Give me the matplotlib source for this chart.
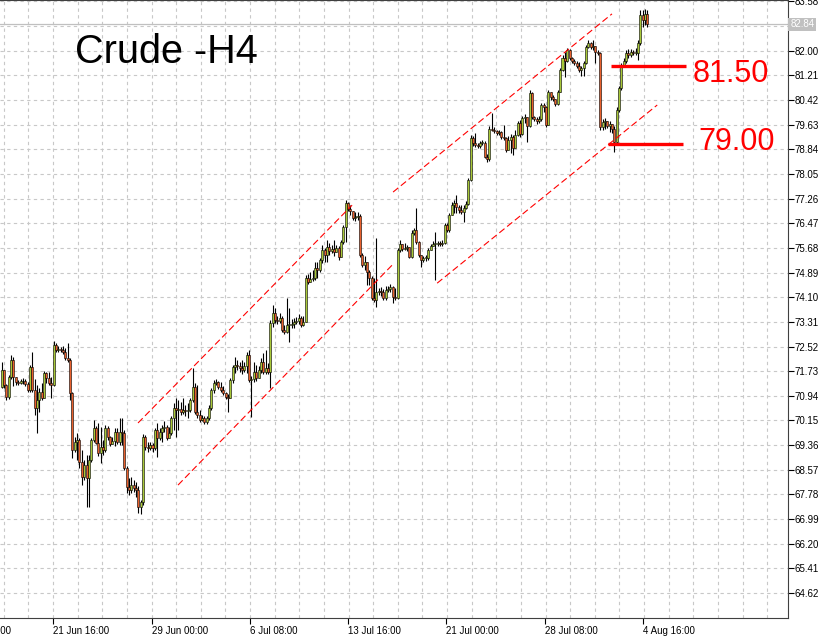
import numpy as np
import matplotlib
matplotlib.use("Agg")
import matplotlib.pyplot as plt

# H4 crude bars
closes = [
    71.77, 71.29, 70.90, 71.54, 72.09, 71.54, 71.38, 71.35, 71.40, 71.42,
    71.32, 71.13, 71.87, 71.13, 70.54, 70.80, 71.06, 70.87, 71.67, 71.51,
    71.35, 71.29, 72.57, 72.41, 72.44, 72.40, 72.35, 72.15, 72.09, 71.03,
    69.20, 69.45, 69.52, 68.82, 68.34, 68.72, 68.30, 68.88, 69.52, 69.90,
    69.42, 69.10, 69.29, 69.20, 69.90, 69.61, 69.39, 69.50, 69.77, 69.45,
    69.77, 69.74, 68.62, 68.02, 67.92, 68.08, 67.98, 67.92, 67.38, 67.54,
    69.61, 69.29, 69.26, 69.36, 69.26, 69.84, 69.58, 69.77, 69.90, 69.93,
    69.58, 69.74, 70.22, 70.54, 70.48, 70.51, 70.42, 70.48, 70.45, 70.48,
    70.80, 71.22, 70.42, 70.32, 70.16, 70.22, 70.10, 70.22, 70.54, 71.13,
    71.35, 71.38, 71.22, 71.13, 71.03, 70.90, 70.87, 71.45, 71.87, 71.93,
    71.90, 71.83, 71.77, 71.90, 72.25, 71.45, 71.48, 71.70, 71.51, 71.77,
    72.03, 71.70, 71.83, 71.70, 73.27, 73.59, 73.37, 73.34, 73.43, 73.05,
    72.98, 73.21, 73.21, 73.24, 73.30, 73.34, 73.43, 73.21, 73.30, 74.71,
    74.59, 74.68, 74.71, 75.03, 74.97, 75.29, 75.61, 75.45, 75.71, 75.58,
    75.64, 75.55, 75.68, 75.39, 75.87, 76.35, 77.12, 76.92, 76.86, 76.64,
    76.67, 76.70, 75.45, 75.13, 75.23, 74.90, 74.71, 74.07, 74.01, 74.27,
    74.30, 74.27, 74.07, 74.33, 74.36, 74.42, 74.10, 74.07, 75.61, 75.80,
    75.64, 75.68, 75.71, 75.39, 76.16, 76.25, 75.87, 75.45, 75.29, 75.36,
    75.36, 75.61, 75.74, 75.80, 75.80, 75.84, 75.80, 75.84, 76.41, 76.25,
    76.73, 77.05, 77.12, 76.99, 76.89, 76.83, 76.96, 77.08, 77.86, 79.20,
    79.04, 78.98, 78.94, 79.04, 79.04, 78.59, 78.53, 79.49, 79.46, 79.43,
    79.36, 79.39, 79.23, 79.20, 78.82, 79.14, 79.23, 78.88, 79.30, 79.68,
    79.33, 79.84, 79.87, 79.59, 80.64, 79.87, 79.81, 79.75, 79.81, 80.26,
    80.20, 79.62, 80.68, 80.52, 80.45, 80.29, 80.68, 81.38, 81.77, 81.67,
    82.02, 81.77, 81.67, 81.61, 81.51, 81.38, 81.45, 81.61, 82.12, 82.25,
    82.12, 82.15, 81.96, 81.93, 79.55, 79.71, 79.75, 79.59, 79.65, 79.49,
    79.07, 80.10, 80.80, 81.51, 81.67, 81.93, 81.86, 81.96, 81.93, 81.93,
    82.25, 83.14, 82.98, 83.18, 82.84,
]
highs = [
    72.03, 71.70, 71.32, 71.61, 72.25, 72.19, 71.51, 71.45, 71.48, 71.51,
    71.48, 71.38, 71.93, 72.35, 71.48, 71.29, 71.19, 71.35, 71.74, 71.70,
    71.70, 71.54, 72.70, 72.63, 72.54, 72.50, 72.54, 72.47, 72.63, 72.15,
    71.06, 69.61, 69.74, 69.58, 69.20, 68.88, 69.04, 69.04, 69.58, 70.16,
    69.97, 70.06, 69.93, 69.52, 70.00, 69.97, 69.65, 69.62, 69.90, 69.90,
    70.22, 70.22, 69.84, 68.69, 68.30, 68.34, 68.24, 68.18, 68.05, 67.60,
    69.71, 69.68, 69.45, 69.45, 69.42, 69.90, 70.06, 69.90, 70.00, 70.13,
    70.00, 69.93, 70.29, 70.70, 70.87, 70.80, 70.74, 70.87, 70.64, 70.70,
    70.87, 71.83, 71.35, 71.29, 70.48, 70.32, 70.29, 70.29, 70.64, 71.19,
    71.45, 71.48, 71.42, 71.38, 71.26, 71.06, 71.00, 71.51, 71.93, 72.19,
    72.09, 72.03, 72.09, 72.03, 72.35, 72.41, 71.58, 72.03, 71.93, 71.90,
    72.15, 72.31, 72.41, 72.00, 73.37, 73.85, 73.75, 73.50, 73.59, 73.50,
    73.21, 74.07, 73.75, 73.40, 73.43, 73.47, 73.56, 73.50, 73.50, 74.81,
    74.84, 74.90, 74.97, 75.23, 75.23, 75.36, 75.77, 75.68, 75.93, 75.84,
    75.77, 75.93, 75.77, 75.74, 75.93, 76.41, 77.21, 77.14, 77.05, 76.86,
    76.83, 76.83, 76.76, 75.52, 75.42, 75.13, 74.97, 74.78, 74.71, 75.99,
    74.39, 74.42, 74.36, 74.46, 74.46, 74.52, 74.46, 74.39, 75.68, 75.93,
    75.80, 75.84, 75.77, 75.71, 76.25, 76.32, 76.96, 75.90, 75.45, 75.42,
    75.45, 75.68, 75.80, 75.90, 76.19, 75.90, 75.90, 75.93, 76.48, 76.48,
    76.80, 77.14, 77.21, 77.38, 77.05, 77.05, 77.05, 77.18, 77.92, 79.30,
    79.26, 79.36, 79.04, 79.10, 79.14, 79.10, 78.69, 79.59, 80.00, 79.55,
    79.46, 79.46, 79.43, 79.62, 79.23, 79.26, 79.33, 79.30, 79.46, 79.75,
    79.78, 79.91, 79.97, 79.87, 80.74, 80.67, 79.91, 79.87, 79.91, 80.32,
    80.32, 80.23, 80.74, 80.61, 80.58, 80.42, 80.74, 81.45, 81.86, 81.96,
    82.09, 82.05, 81.80, 81.73, 81.67, 81.64, 81.51, 81.67, 82.18, 82.34,
    82.28, 82.34, 82.15, 82.02, 81.96, 79.81, 79.84, 79.75, 79.75, 79.62,
    79.59, 80.20, 80.87, 81.61, 81.77, 82.02, 82.05, 82.05, 82.02, 82.09,
    82.34, 83.30, 83.30, 83.34, 83.30,
]
lows = [
    71.19, 71.19, 70.80, 70.83, 71.48, 71.26, 71.29, 71.29, 71.32, 71.32,
    71.26, 71.06, 71.06, 71.06, 70.32, 69.74, 70.42, 70.80, 70.87, 71.35,
    71.29, 70.87, 71.26, 72.35, 72.35, 72.33, 72.28, 72.09, 72.03, 70.80,
    68.94, 69.14, 68.88, 68.62, 68.08, 68.24, 67.38, 67.38, 68.82, 69.45,
    69.39, 69.01, 68.78, 69.04, 69.14, 69.52, 69.33, 69.40, 69.33, 69.39,
    69.36, 69.36, 68.56, 67.83, 67.76, 67.83, 67.86, 67.70, 67.18, 67.15,
    67.44, 69.20, 69.14, 69.20, 69.14, 69.20, 68.98, 69.52, 69.45, 69.77,
    69.52, 69.65, 69.68, 69.84, 69.61, 69.84, 70.32, 70.35, 70.29, 70.22,
    70.42, 70.74, 70.35, 70.22, 70.10, 70.13, 70.03, 70.03, 70.16, 70.48,
    71.03, 71.29, 71.16, 71.06, 70.96, 70.83, 70.42, 70.87, 71.35, 71.67,
    71.77, 71.70, 71.64, 71.70, 71.67, 71.38, 70.26, 71.38, 71.42, 71.61,
    71.67, 71.64, 71.64, 71.64, 71.19, 73.14, 73.27, 73.24, 73.27, 72.98,
    72.92, 72.95, 72.67, 73.11, 73.11, 73.24, 73.24, 73.14, 73.18, 73.37,
    74.52, 74.59, 74.62, 74.65, 74.71, 74.90, 75.19, 75.23, 75.23, 75.45,
    75.52, 75.42, 75.55, 75.29, 75.42, 75.80, 75.87, 76.86, 76.73, 76.57,
    76.54, 76.57, 75.39, 75.07, 74.97, 74.49, 74.49, 74.01, 73.94, 73.78,
    74.17, 74.14, 74.01, 74.01, 74.27, 74.27, 73.91, 74.01, 74.04, 75.55,
    75.58, 75.61, 75.58, 75.36, 75.36, 76.09, 75.80, 75.39, 75.07, 75.23,
    75.26, 75.29, 75.61, 75.74, 74.65, 75.74, 75.74, 75.74, 75.80, 76.19,
    76.19, 76.73, 76.80, 76.80, 76.80, 76.76, 76.51, 76.92, 77.05, 77.82,
    78.94, 78.91, 78.88, 78.88, 78.98, 78.56, 78.43, 78.46, 79.43, 79.36,
    79.30, 79.30, 79.17, 79.14, 78.75, 79.04, 78.72, 78.66, 78.88, 79.26,
    79.23, 79.30, 79.68, 79.07, 79.55, 79.81, 79.75, 79.65, 79.68, 79.75,
    80.03, 79.55, 79.71, 80.42, 80.39, 80.23, 80.26, 80.68, 81.35, 81.16,
    81.64, 81.70, 81.61, 81.54, 81.45, 81.32, 81.19, 81.19, 81.57, 82.09,
    82.05, 82.02, 81.61, 81.86, 79.46, 79.46, 79.49, 79.52, 79.39, 79.36,
    78.75, 79.04, 80.03, 80.74, 81.48, 81.61, 81.77, 81.80, 81.86, 81.86,
    81.70, 82.18, 82.76, 82.82, 82.76,
]
first_open = 71.22
last_price = 82.84

# time axis labels (one every ~41.7 bars)
tick_bars = [-19.9, 21.8, 63.6, 105.3, 147.0, 188.7, 230.5, 272.2]
tick_labels = ["14 Jun 08:00", "21 Jun 16:00", "29 Jun 00:00", "6 Jul 08:00",
               "13 Jul 16:00", "21 Jul 00:00", "28 Jul 08:00", "4 Aug 16:00"]

# trend channels drawn on the chart: (bar, price) endpoints
channel_lines = [
    [(57.85, 70.07), (148.7, 77.05)],
    [(74.83, 68.08), (165.7, 75.13)],
    [(166.1, 77.47), (259.0, 83.18)],
    [(184.8, 74.55), (278.2, 80.26)],
]
levels = [81.50, 79.00]
level_spans = [(258.6, 290.5), (257.4, 289.2)]
level_text_x = [293.4, 295.5]
level_text_y = [81.00, 78.81]

opens = np.array([first_open] + closes[:-1])
closes = np.array(closes)
highs = np.maximum(np.array(highs), np.maximum(opens, closes))
lows = np.minimum(np.array(lows), np.minimum(opens, closes))
x = np.arange(len(closes))

fig = plt.figure(figsize=(8.32, 6.36), dpi=100)
ax = fig.add_axes([0, 18 / 636, 788 / 832, 618 / 636])

# grid
yt = [round(64.62 + 0.79 * k, 2) for k in range(25)]
for v in yt:
    ax.axhline(v, color="#c8c8c8", lw=0.8, ls=(0, (3, 3)), zorder=0)
for k in range(-3, 30):
    gx = tick_bars[1] + k * (tick_bars[2] - tick_bars[1]) / 4
    ax.axvline(gx, color="#c8c8c8", lw=0.8, ls=(0, (3, 3)), zorder=0)

# bid line
ax.axhline(last_price, color="#c0c0c0", lw=0.9, zorder=1)

# candles
up = closes >= opens
ax.vlines(x, lows, highs, color="black", lw=0.8, zorder=2)
body_lo = np.minimum(opens, closes)
body_h = np.maximum(np.abs(closes - opens), 0.025)
ax.bar(x[up], body_h[up], bottom=body_lo[up], width=0.85,
       color="#a8c838", edgecolor="black", linewidth=0.4, zorder=3)
ax.bar(x[~up], body_h[~up], bottom=body_lo[~up], width=0.85,
       color="#e8602c", edgecolor="black", linewidth=0.4, zorder=3)

# channels
for seg in channel_lines:
    (x1, y1), (x2, y2) = seg
    ax.plot([x1, x2], [y1, y2], color="red", lw=0.8, ls=(0, (6, 3)), zorder=4)

# levels
for lv, (a, b), tx, ty in zip(levels, level_spans, level_text_x, level_text_y):
    ax.plot([a, b], [lv, lv], color="red", lw=2.4, zorder=5, solid_capstyle="butt")
    ax.text(tx, ty, "%.2f" % lv, color="red", fontsize=22, family="Liberation Sans",
            va="baseline", ha="left", zorder=6, clip_on=False)

fig.text(75 / 832, 1 - 63 / 636, "Crude -H4", fontsize=28.5, family="Liberation Sans",
         va="baseline", ha="left")

# axes styling
ax.spines["left"].set_visible(False)
for s in ["right", "bottom", "top"]:
    ax.spines[s].set_color("#404040")
    ax.spines[s].set_linewidth(0.8)

ax.yaxis.tick_right()
ax.set_yticks([v for v in yt if abs(v - 82.79) > 0.01])
ax.set_yticklabels(["%.2f" % v for v in yt if abs(v - 82.79) > 0.01])
ax.tick_params(axis="y", length=4, width=0.8, pad=1, labelsize=7, colors="black")
ax.set_xticks(tick_bars)
ax.set_xticklabels(tick_labels)
ax.tick_params(axis="x", length=4, width=0.8, pad=2, labelsize=7)
for lab in ax.get_xticklabels():
    lab.set_horizontalalignment("left")
for lab in ax.get_xticklabels() + ax.get_yticklabels():
    lab.set_family("Liberation Sans")

# limits last, so the off-screen first tick does not widen the view
ax.set_xlim(-0.72, 333.7)
ax.set_ylim(63.82, 83.625)

# first time label sits left of the window and is cut by the figure edge
ax.annotate(tick_labels[0], xy=(tick_bars[0], 0), xycoords=("data", "axes fraction"),
            xytext=(0, -6), textcoords="offset points", fontsize=7,
            family="Liberation Sans", ha="left", va="top", annotation_clip=False)

ax.text(1.003, last_price, "%.2f" % last_price, transform=ax.get_yaxis_transform(),
        fontsize=7, family="Liberation Sans", color="white", va="center", ha="left",
        bbox=dict(boxstyle="square,pad=0.2", fc="#c0c0c0", ec="none"), clip_on=False)

fig.savefig("out.png", dpi=100)
